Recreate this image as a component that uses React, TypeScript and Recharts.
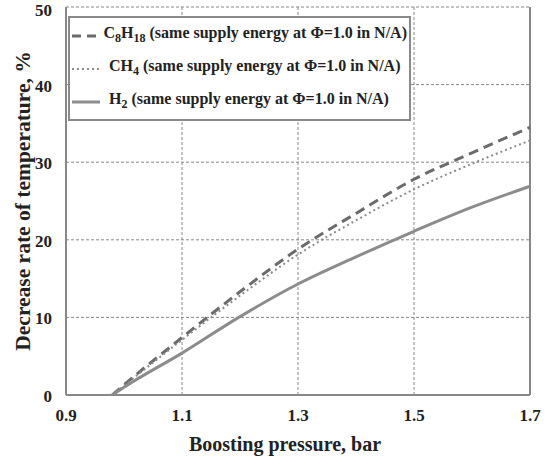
import {
  LineChart,
  Line,
  XAxis,
  YAxis,
  CartesianGrid,
  Label,
  ReferenceLine,
} from "recharts";

const pressure = [0.98, 1.0, 1.1, 1.2, 1.3, 1.4, 1.5, 1.6, 1.7];
const octane = [0, 1.3, 7.4, 13.3, 18.8, 23.4, 27.8, 31.2, 34.5];
const methane = [0, 1.2, 7.1, 12.8, 18.1, 22.5, 26.5, 29.8, 32.8];
const hydrogen = [0, 1.0, 5.4, 10.1, 14.3, 17.8, 21.1, 24.2, 26.9];
const xTicks = [0.9, 1.1, 1.3, 1.5, 1.7];
const yTicks = [0, 10, 20, 30, 40, 50];
const suffix = " (same supply energy at \u03a6=1.0 in N/A)";

const data = pressure.map((p, i) => ({
  p,
  octane: octane[i],
  methane: methane[i],
  hydrogen: hydrogen[i],
}));

const font = "'Liberation Serif', 'Times New Roman', serif";
const dark = "#6b6b6b";
const light = "#8c8c8c";
const sub = { fontSize: 12 };

function LegendBox() {
  const row = (dash: string, color: string, width: number, label: any) => (
    <div style={{ display: "flex", alignItems: "center", height: 33 }}>
      <svg width={30} height={10} style={{ marginRight: 7 }}>
        <line x1={0} y1={5} x2={28} y2={5} stroke={color} strokeWidth={width} strokeDasharray={dash} />
      </svg>
      <span>{label}</span>
    </div>
  );
  return (
    <div
      style={{
        position: "absolute",
        left: 68,
        top: 16,
        border: "2px solid #8a8a8a",
        background: "#fff",
        padding: "1px 2px 1px 2px",
        fontFamily: font,
        fontWeight: "bold",
        fontSize: 16,
        lineHeight: "16px",
        color: "#222",
        width: 343,
        boxSizing: "border-box",
        whiteSpace: "nowrap",
      }}
    >
      {row("9 6", dark, 3, <>C<sub style={sub}>8</sub>H<sub style={sub}>18</sub>{suffix}</>)}
      {row("2 3", light, 2, <>CH<sub style={sub}>4</sub>{suffix}</>)}
      {row("", light, 3, <>H<sub style={sub}>2</sub>{suffix}</>)}
    </div>
  );
}

const XTick = ({ x, y, payload }: any) => (
  <text x={x} y={y + 26} textAnchor="middle" fontFamily={font} fontWeight="bold" fontSize={17} fill="#222">
    {Number(payload.value).toFixed(1)}
  </text>
);

const YTick = ({ x, y, payload }: any) => (
  <text x={x - 14} y={y + 7} textAnchor="end" fontFamily={font} fontWeight="bold" fontSize={17} fill="#222">
    {payload.value}
  </text>
);

export default function App() {
  return (
    <div style={{ position: "absolute", left: 0, top: 0, width: 549, height: 456, background: "#fff", fontFamily: font }}>
      <LineChart
        width={549}
        height={456}
        data={data}
        margin={{ top: 7, right: 19, bottom: 0, left: 0 }}
      >
        <CartesianGrid stroke="#888" strokeDasharray="3 2" />
        <XAxis
          dataKey="p"
          type="number"
          domain={[0.9, 1.7]}
          ticks={xTicks}
          tick={<XTick />}
          tickLine={false}
          axisLine={{ stroke: "#888", strokeWidth: 2 }}
          height={61}
          tickMargin={0}
          tickSize={0}
        >
          <Label
            value="Boosting pressure, bar"
            position="insideBottom"
            offset={5}
            dx={-13}
            style={{ fontFamily: font, fontWeight: "bold", fontSize: 20, fill: "#222" }}
          />
        </XAxis>
        <YAxis
          type="number"
          domain={[0, 50]}
          ticks={yTicks}
          tick={<YTick />}
          tickLine={false}
          axisLine={{ stroke: "#888", strokeWidth: 2 }}
          width={66}
          tickMargin={0}
          tickSize={0}
        >
          <Label
            value="Decrease rate of temperature, %"
            angle={-90}
            position="insideLeft"
            offset={22}
            style={{ textAnchor: "middle", fontFamily: font, fontWeight: "bold", fontSize: 21.5, fill: "#222" }}
          />
        </YAxis>
        <ReferenceLine x={1.7} stroke="#888" strokeWidth={2} />
        <Line dataKey="octane" stroke={dark} strokeWidth={3} strokeDasharray="10 6" dot={false} type="monotone" isAnimationActive={false} />
        <Line dataKey="methane" stroke={light} strokeWidth={2} strokeDasharray="2 3" dot={false} type="monotone" isAnimationActive={false} />
        <Line dataKey="hydrogen" stroke={light} strokeWidth={3} dot={false} type="monotone" isAnimationActive={false} />
      </LineChart>
      <LegendBox />
    </div>
  );
}
